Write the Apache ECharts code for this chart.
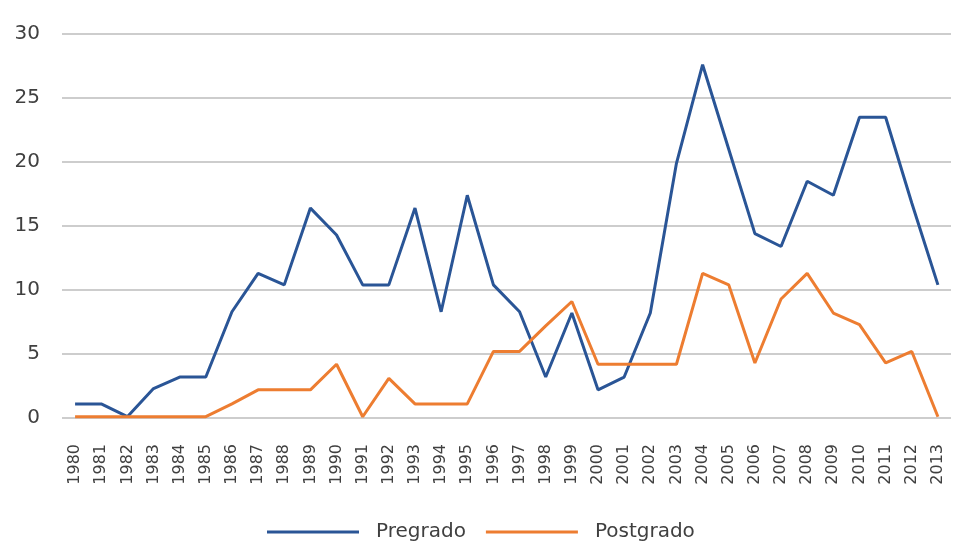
<!DOCTYPE html>
<html>
<head>
<meta charset="utf-8">
<script src="https://cdn.jsdelivr.net/npm/echarts@6/dist/echarts.min.js"></script>
<style>html,body{margin:0;padding:0;background:#fff;}#c{width:957px;height:543px;}</style>
</head>
<body>
<div id="c"></div>
<script>
const years = ['1980','1981','1982','1983','1984','1985','1986','1987','1988','1989','1990','1991','1992','1993','1994','1995','1996','1997','1998','1999','2000','2001','2002','2003','2004','2005','2006','2007','2008','2009','2010','2011','2012','2013'];
const pregrado = [1.1,1.1,0.1,2.3,3.2,3.2,8.3,11.3,10.4,16.4,14.3,10.4,10.4,16.4,8.3,17.4,10.4,8.3,3.2,8.2,2.2,3.2,8.2,19.9,27.6,21.0,14.4,13.4,18.5,17.4,23.5,23.5,16.8,10.4];
const postgrado = [0.1,0.1,0.1,0.1,0.1,0.1,1.1,2.2,2.2,2.2,4.2,0.1,3.1,1.1,1.1,1.1,5.2,5.2,7.2,9.1,4.2,4.2,4.2,4.2,11.3,10.4,4.3,9.3,11.3,8.2,7.3,4.3,5.2,0.1];
const seriesNames = ['Pregrado','Postgrado'];
const yTicks = {min:0, max:30, interval:5};

const chart = echarts.init(document.getElementById('c'), null, {renderer:'canvas'});
chart.setOption({
  animation:false,
  backgroundColor:'#ffffff',
  textStyle:{fontFamily:'DejaVu Sans'},
  grid:{left:62, right:6, top:34, bottom:125, containLabel:false},
  legend:{
    data:seriesNames, top:517, left:262,
    icon:'rect', itemWidth:92, itemHeight:3, itemGap:20,
    textStyle:{fontSize:20, color:'#404040', fontFamily:'DejaVu Sans', padding:[0,0,0,12]}
  },
  xAxis:{
    type:'category', data:years, boundaryGap:true,
    axisLine:{show:false}, axisTick:{show:false},
    axisLabel:{rotate:90, interval:0, fontSize:16, color:'#404040', margin:26, fontFamily:'DejaVu Sans'}
  },
  yAxis:{
    type:'value', min:yTicks.min, max:yTicks.max, interval:yTicks.interval,
    axisLine:{show:false}, axisTick:{show:false},
    axisLabel:{fontSize:20, color:'#404040', margin:22, fontFamily:'DejaVu Sans'},
    splitLine:{lineStyle:{color:'#bcbcbc', width:1.5}}
  },
  series:[
    {name:seriesNames[0], type:'line', data:pregrado, showSymbol:false, symbol:'none',
     lineStyle:{color:'#2a5596', width:3}, itemStyle:{color:'#2a5596'}},
    {name:seriesNames[1], type:'line', data:postgrado, showSymbol:false, symbol:'none',
     lineStyle:{color:'#ed7d31', width:3}, itemStyle:{color:'#ed7d31'}}
  ]
});
</script>
</body>
</html>
